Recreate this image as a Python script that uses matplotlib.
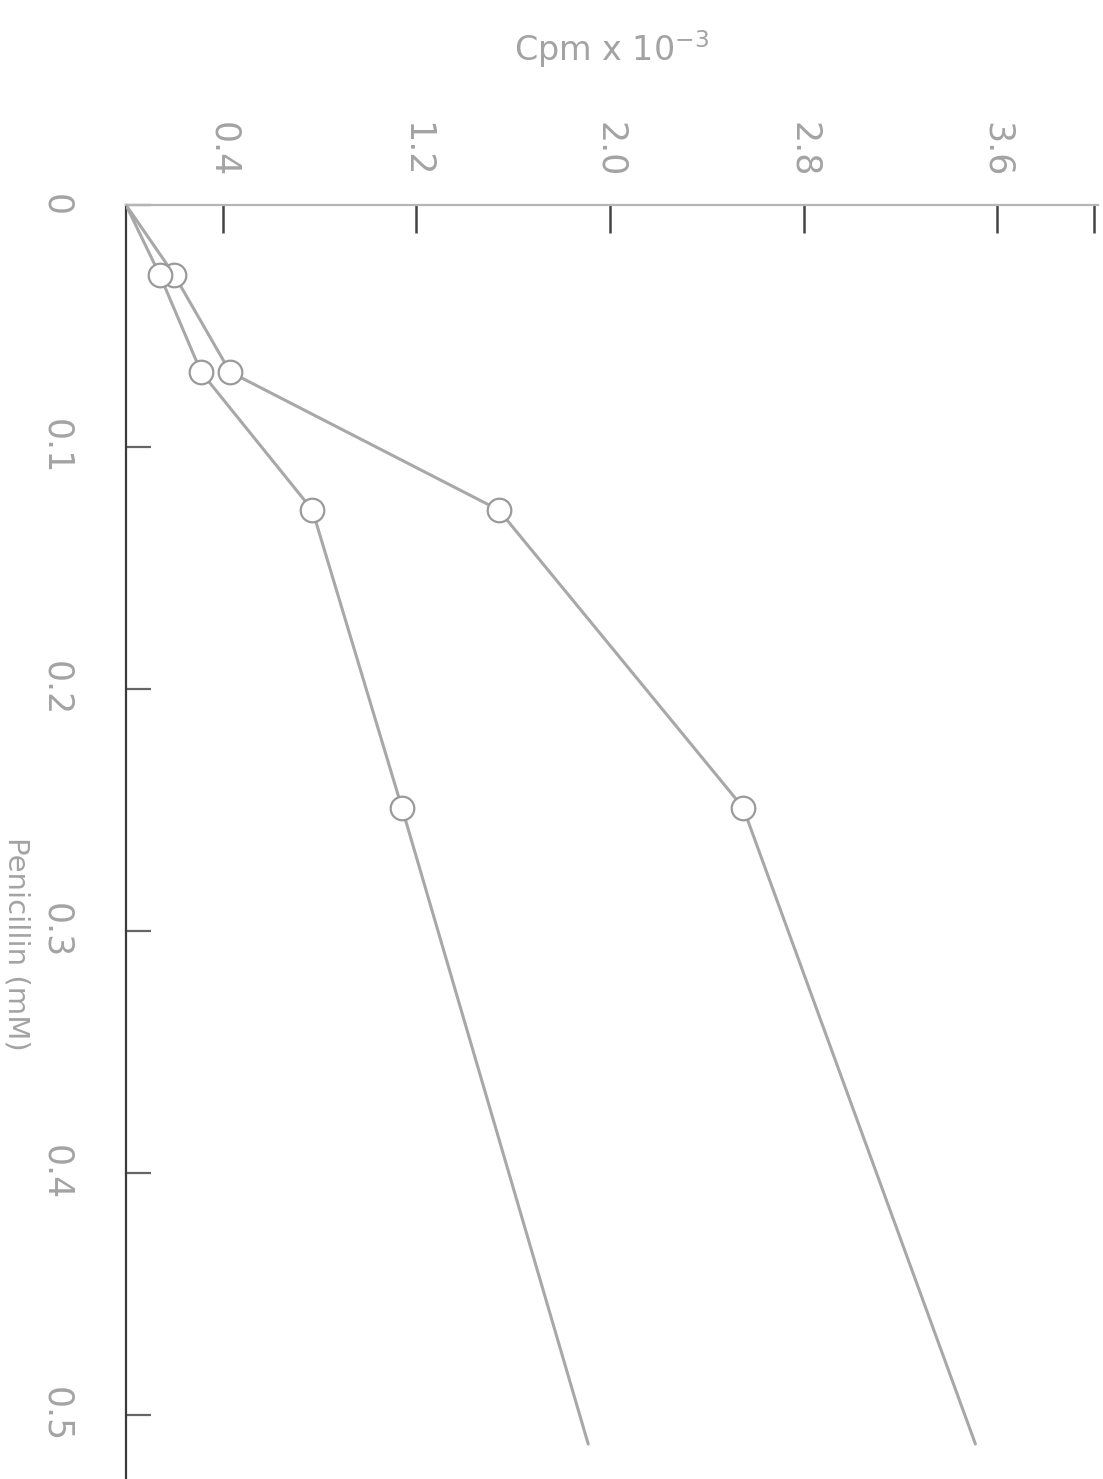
import matplotlib
matplotlib.use("Agg")
import matplotlib.pyplot as plt

# Data (concentration on the vertical axis, counts on the horizontal axis)
conc = [0.0, 0.029, 0.069, 0.126, 0.249, 0.512]
cpm_upper = [0.0, 0.20, 0.43, 1.54, 2.55, 3.51]
cpm_lower = [0.0, 0.14, 0.31, 0.77, 1.14, 1.91]

cpm_ticks = [0.4, 1.2, 2.0, 2.8, 3.6, 4.0]
cpm_ticklabels = ["0.4", "1.2", "2.0", "2.8", "3.6", ""]
conc_ticks = [0.0, 0.1, 0.2, 0.3, 0.4, 0.5]
conc_ticklabels = ["0", "0.1", "0.2", "0.3", "0.4", "0.5"]

W, H = 1103, 1479
fig = plt.figure(figsize=(W / 100, H / 100), dpi=100)
fig.patch.set_facecolor("white")

left_px, right_px, top_px = 126, 1098, 205
ax = fig.add_axes([left_px / W, 0.0, (right_px - left_px) / W, 1 - top_px / H])
ax.set_facecolor("white")

ax.set_xlim(0, (right_px - left_px) / 242.0)
ax.set_ylim((H - top_px) / 2420.0, 0)

line_col = "#a8a8a8"
for vals in (cpm_upper, cpm_lower):
    ax.plot(vals, conc, color=line_col, lw=2.2, solid_capstyle="round",
            marker="o", markersize=17, markerfacecolor="white",
            markeredgecolor="#9a9a9a", markeredgewidth=1.6,
            markevery=[1, 2, 3, 4], zorder=3)

# spines
for s in ("right", "bottom"):
    ax.spines[s].set_visible(False)
ax.spines["left"].set_color("#3a3a3a")
ax.spines["left"].set_linewidth(1.6)
ax.spines["top"].set_color("#b5b5b5")
ax.spines["top"].set_linewidth(1.6)

txt_col = "#a3a3a3"
ax.xaxis.tick_top()
ax.set_xticks(cpm_ticks)
ax.set_xticklabels(cpm_ticklabels, rotation=-90, fontsize=25, color=txt_col,
                   va="bottom", ha="center")
ax.tick_params(axis="x", direction="in", length=20, width=1.8, colors="#444444",
               labelcolor=txt_col, pad=20)

ax.set_yticks(conc_ticks)
ax.set_yticklabels(conc_ticklabels, rotation=-90, fontsize=25, color=txt_col,
                   va="center", ha="center")
ax.tick_params(axis="y", direction="in", length=18, width=1.6, colors="#666666",
               labelcolor=txt_col, pad=50)

ax.set_xlabel("Cpm x 10$^{-3}$", fontsize=24, color=txt_col, labelpad=44)
ax.xaxis.set_label_position("top")
ax.set_ylabel("Penicillin (mM)", fontsize=21, color=txt_col, rotation=-90,
              va="center", ha="center")
ax.yaxis.set_label_coords(-0.113, 0.42)

fig.savefig("out.png", dpi=100, facecolor="white")
